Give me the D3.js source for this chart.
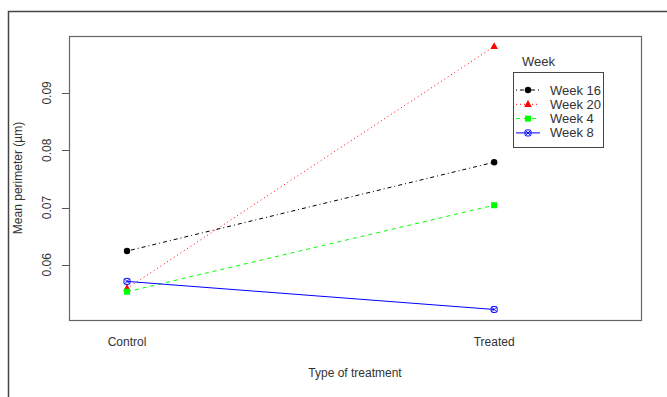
<!DOCTYPE html>
<html>
<head>
<meta charset="utf-8">
<script src="https://cdn.jsdelivr.net/npm/d3@7"></script>
<style>
  body { margin: 0; background: #fff; }
  svg { display: block; font-family: "Liberation Sans", Arial, sans-serif; }
</style>
</head>
<body>
<div id="chart"></div>
<script>
// Data
const treatments = ["Control", "Treated"];
const weeks = ["Week 16", "Week 20", "Week 4", "Week 8"];
const week16 = [0.0624, 0.0779];
const week20 = [0.0559, 0.0981];
const week4 = [0.0553, 0.0704];
const week8 = [0.0571, 0.0522];
const yTicks = [0.06, 0.07, 0.08, 0.09];

const series = [
  { name: weeks[0], values: week16, color: "#000000", dash: "1,3,4,3", shape: "circle" },
  { name: weeks[1], values: week20, color: "#ff0000", dash: "1,3", shape: "triangle" },
  { name: weeks[2], values: week4, color: "#00ff00", dash: "4,4", shape: "square" },
  { name: weeks[3], values: week8, color: "#0000ff", dash: null, shape: "circlex" }
];

// Dimensions
const width = 667;
const height = 397;
const plot = { left: 69, right: 641, top: 36, bottom: 320 };

const svg = d3.select("#chart").append("svg")
  .attr("width", width)
  .attr("height", height);

// outer frame (only top and left visible)
svg.append("path")
  .attr("d", `M8.5,${height} V11.5 H${width}`)
  .attr("fill", "none")
  .attr("stroke", "#444")
  .attr("stroke-width", 1.5);

// scales (R-style 4% padding on y)
const all = series.flatMap(s => s.values);
const lo = d3.min(all), hi = d3.max(all);
const pad = (hi - lo) * 0.04;
const y = d3.scaleLinear().domain([lo - pad, hi + pad]).range([plot.bottom, plot.top]);
const x = d3.scaleLinear().domain([0.842, 2.4]).range([plot.left, plot.right]);

// plot box
svg.append("rect")
  .attr("x", plot.left + 0.5)
  .attr("y", plot.top + 0.5)
  .attr("width", plot.right - plot.left)
  .attr("height", plot.bottom - plot.top)
  .attr("fill", "none")
  .attr("stroke", "#666")
  .attr("stroke-width", 1.2);

// y axis
const yAxis = svg.append("g");
yTicks.forEach(t => {
  const yy = Math.round(y(t)) + 0.5;
  yAxis.append("line")
    .attr("x1", plot.left - 7).attr("x2", plot.left)
    .attr("y1", yy).attr("y2", yy)
    .attr("stroke", "#555");
  yAxis.append("text")
    .attr("transform", `translate(51,${y(t)}) rotate(-90)`)
    .attr("text-anchor", "middle")
    .attr("font-size", 12)
    .attr("fill", "#333")
    .text(d3.format(".2f")(t));
});

// x labels (no ticks)
svg.append("g").selectAll("text")
  .data(treatments)
  .join("text")
  .attr("x", (d, i) => x(i + 1))
  .attr("y", 346)
  .attr("text-anchor", "middle")
  .attr("font-size", 12)
  .attr("fill", "#333")
  .text(d => d);

svg.append("text")
  .attr("x", 355)
  .attr("y", 377)
  .attr("text-anchor", "middle")
  .attr("font-size", 12)
  .attr("fill", "#333")
  .text("Type of treatment");

svg.append("text")
  .attr("transform", "translate(22,178) rotate(-90)")
  .attr("text-anchor", "middle")
  .attr("font-size", 12)
  .attr("fill", "#333")
  .text("Mean perimeter (µm)");

// symbol drawing
function drawSymbol(g, shape, color, cx, cy) {
  if (shape === "circle") {
    g.append("circle").attr("cx", cx).attr("cy", cy).attr("r", 3.2).attr("fill", color);
  } else if (shape === "triangle") {
    g.append("path")
      .attr("d", `M${cx},${cy - 4.2} L${cx + 3.8},${cy + 2.6} L${cx - 3.8},${cy + 2.6} Z`)
      .attr("fill", color);
  } else if (shape === "square") {
    g.append("rect").attr("x", cx - 3).attr("y", cy - 3).attr("width", 6).attr("height", 6).attr("fill", color);
  } else {
    g.append("rect").attr("x", cx - 3).attr("y", cy - 3).attr("width", 6).attr("height", 6)
      .attr("rx", 1.5).attr("fill", "none").attr("stroke", color).attr("stroke-width", 1);
    g.append("path")
      .attr("d", `M${cx - 2.5},${cy - 2.5} L${cx + 2.5},${cy + 2.5} M${cx + 2.5},${cy - 2.5} L${cx - 2.5},${cy + 2.5}`)
      .attr("stroke", color).attr("stroke-width", 1);
  }
}

// lines and points
const line = d3.line()
  .x((d, i) => x(i + 1))
  .y(d => y(d));

const marks = svg.append("g");
series.forEach(s => {
  marks.append("path")
    .attr("d", line(s.values))
    .attr("fill", "none")
    .attr("stroke", s.color)
    .attr("stroke-width", 1)
    .attr("stroke-dasharray", s.dash);
  s.values.forEach((v, i) => drawSymbol(marks, s.shape, s.color, x(i + 1), y(v)));
});

// legend
const legend = svg.append("g");
legend.append("text")
  .attr("x", 522).attr("y", 66)
  .attr("font-size", 13)
  .attr("fill", "#333")
  .text("Week");
legend.append("rect")
  .attr("x", 513.5).attr("y", 72.5)
  .attr("width", 90).attr("height", 75)
  .attr("fill", "#fff")
  .attr("stroke", "#444");

series.forEach((s, i) => {
  const ly = 90 + i * 14.3;
  legend.append("line")
    .attr("x1", 516).attr("x2", 540)
    .attr("y1", ly).attr("y2", ly)
    .attr("stroke", s.color)
    .attr("stroke-dasharray", s.dash);
  drawSymbol(legend, s.shape, s.color, 528, ly);
  legend.append("text")
    .attr("x", 550).attr("y", ly + 4.5)
    .attr("font-size", 13)
    .attr("fill", "#333")
    .text(s.name);
});
</script>
</body>
</html>
